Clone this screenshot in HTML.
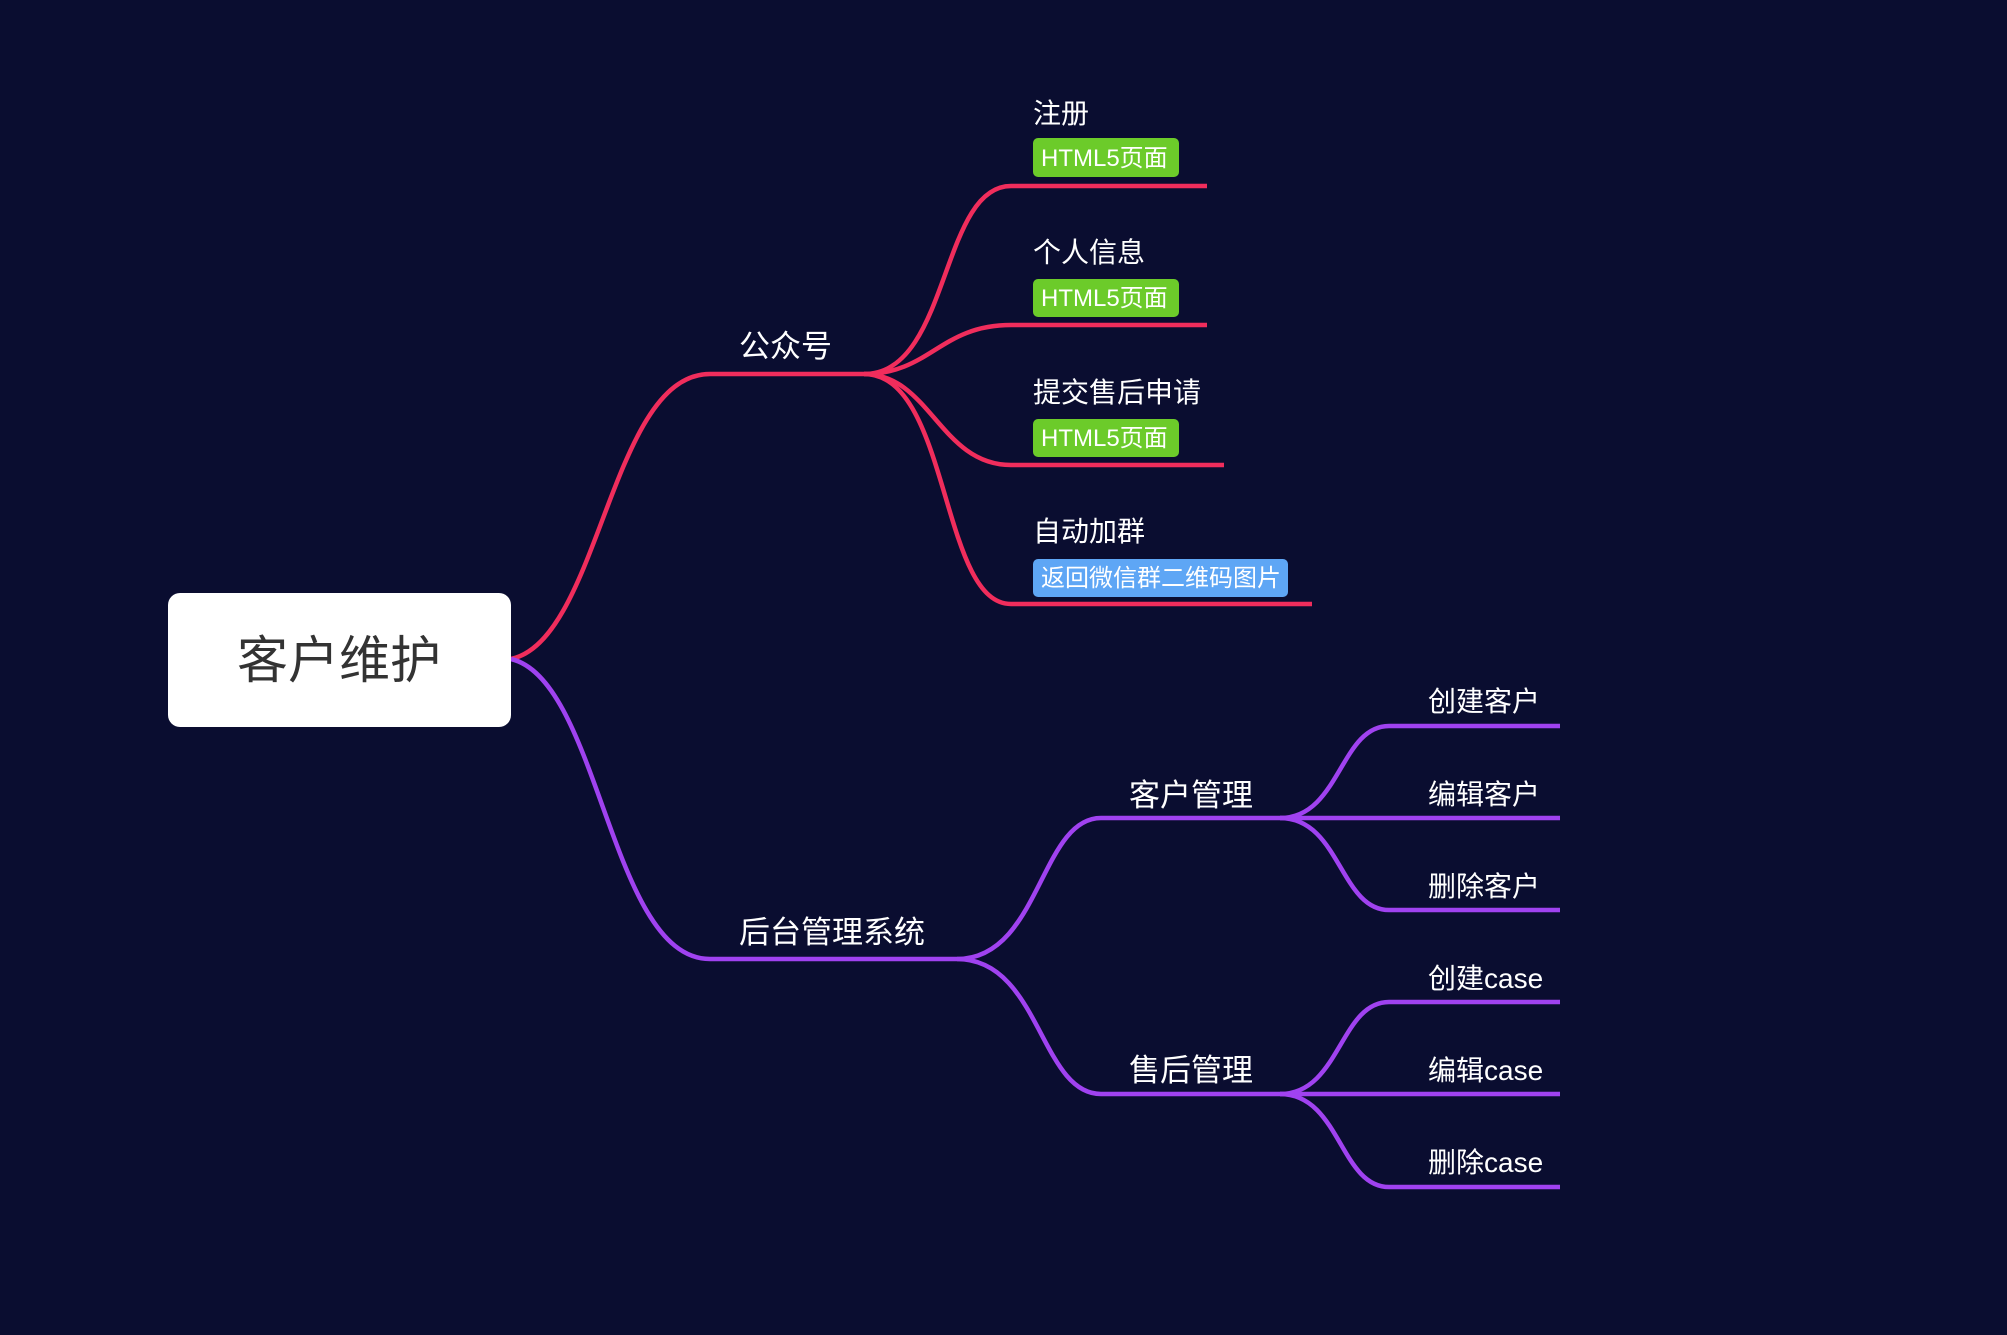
<!DOCTYPE html>
<html><head><meta charset="utf-8"><style>
html,body{margin:0;padding:0;background:#0a0d30;}
svg{display:block}
text{font-family:"Liberation Sans","Noto Sans CJK SC",sans-serif;fill:#fff}
</style></head><body>
<svg width="2007" height="1335" viewBox="0 0 2007 1335" xmlns="http://www.w3.org/2000/svg">
<rect width="2007" height="1335" fill="#0a0d30"/>
<g fill="none" stroke-width="4.5" stroke-linecap="butt">
<g stroke="#f02d5c">
<path d="M511 659 C600 640 610 374 710 374 L864 374"/>
<path d="M864 374 C950 374 940 186 1011 186 L1207 186"/>
<path d="M864 374 C930 374 940 325 1011 325 L1207 325"/>
<path d="M864 374 C930 374 940 465 1011 465 L1224 465"/>
<path d="M864 374 C950 374 940 604 1011 604 L1312 604"/>
</g>
<g stroke="#a042f0">
<path d="M511 659 C600 680 610 959 710 959 L957 959"/>
<path d="M957 959 C1040 959 1040 818 1101 818 L1280 818"/>
<path d="M957 959 C1040 959 1040 1094 1101 1094 L1280 1094"/>
<path d="M1280 818 C1340 818 1340 726 1389 726 L1560 726"/>
<path d="M1280 818 L1560 818"/>
<path d="M1280 818 C1340 818 1340 910 1389 910 L1560 910"/>
<path d="M1280 1094 C1340 1094 1340 1002 1389 1002 L1560 1002"/>
<path d="M1280 1094 L1560 1094"/>
<path d="M1280 1094 C1340 1094 1340 1187 1389 1187 L1560 1187"/>
</g>
</g>
<rect x="168" y="593" width="343" height="134" rx="12" fill="#fff"/>
<text x="339" y="678" font-size="51" text-anchor="middle" style="fill:#333">客户维护</text>
<g font-size="31">
<text x="739" y="357">公众号</text>
<text x="739" y="943">后台管理系统</text>
<text x="1129" y="806">客户管理</text>
<text x="1129" y="1081">售后管理</text>
</g>
<g font-size="28">
<text x="1033" y="123">注册</text>
<text x="1033" y="262">个人信息</text>
<text x="1033" y="402">提交售后申请</text>
<text x="1033" y="541">自动加群</text>
<text x="1428" y="711">创建客户</text>
<text x="1428" y="804">编辑客户</text>
<text x="1428" y="896">删除客户</text>
<text x="1428" y="988">创建case</text>
<text x="1428" y="1080">编辑case</text>
<text x="1428" y="1172">删除case</text>
</g>
<g font-size="24">
<rect x="1033" y="138" width="146" height="39" rx="5" fill="#6ccb2a"/>
<text x="1041" y="166">HTML5页面</text>
<rect x="1033" y="279" width="146" height="38" rx="5" fill="#6ccb2a"/>
<text x="1041" y="306">HTML5页面</text>
<rect x="1033" y="419" width="146" height="38" rx="5" fill="#6ccb2a"/>
<text x="1041" y="446">HTML5页面</text>
<rect x="1033" y="559" width="255" height="38" rx="5" fill="#5ea6f5"/>
<text x="1041" y="586">返回微信群二维码图片</text>
</g>
</svg>
</body></html>
